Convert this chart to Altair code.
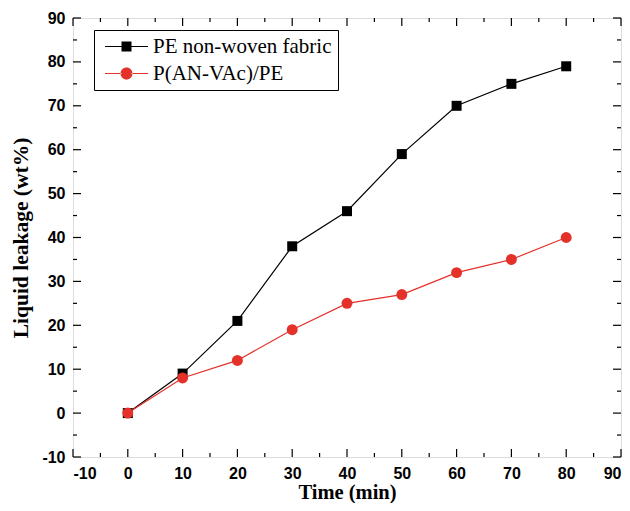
import altair as alt
import pandas as pd

time_min = [0, 10, 20, 30, 40, 50, 60, 70, 80]
pe_fabric = [0, 9, 21, 38, 46, 59, 70, 75, 79]
pan_pe = [0, 8, 12, 19, 25, 27, 32, 35, 40]
series_names = ["PE non-woven fabric", "P(AN-VAc)/PE"]
series_colors = ["#000000", "#e4312a"]
major_ticks = [-10, 0, 10, 20, 30, 40, 50, 60, 70, 80, 90]
minor_ticks = [-5, 5, 15, 25, 35, 45, 55, 65, 75, 85]

rows = []
for t, a, b in zip(time_min, pe_fabric, pan_pe):
    rows.append({"time": t, "value": a, "series": series_names[0]})
    rows.append({"time": t, "value": b, "series": series_names[1]})
df = pd.DataFrame(rows)

W, H = 548, 439
xscale = alt.Scale(domain=[-10, 90], nice=False, zero=False)
yscale = alt.Scale(domain=[-10, 90], nice=False, zero=False)
cscale = alt.Scale(domain=series_names, range=series_colors)

sq_path = "M-4.3,-0.1H-0.5V0.1H-4.3Z M0.5,-0.1H4.3V0.1H0.5Z M-1,-1H1V1H-1Z"
ci_path = ("M-4.3,-0.1H-1V0.1H-4.3Z M1,-0.1H4.3V0.1H1Z "
           "M-1.2,0A1.2,1.2,0,1,0,1.2,0A1.2,1.2,0,1,0,-1.2,0Z")

X = alt.X("time:Q", scale=xscale, axis=alt.Axis(
    values=major_ticks, title="Time (min)", tickSize=0, domain=False, grid=False,
    labelPadding=8, labelFont="Liberation Sans", labelFontWeight="bold",
    labelFontSize=16, labelColor="black", labelExpr="'' + datum.value",
    titleFont="Liberation Serif", titleFontWeight="bold", titleFontSize=20.5,
    titleColor="black", titlePadding=1))
Y = alt.Y("value:Q", scale=yscale, axis=alt.Axis(
    values=major_ticks, title="Liquid leakage (wt%)", tickSize=0, domain=False,
    grid=False, labelPadding=8, labelFont="Liberation Sans",
    labelFontWeight="bold", labelFontSize=16, labelColor="black",
    labelExpr="'' + datum.value",
    titleFont="Liberation Serif", titleFontWeight="bold", titleFontSize=21.5,
    titleColor="black", titlePadding=9))

base = alt.Chart(df)
layers = []
for i, name in enumerate(series_names):
    sub = base.transform_filter(alt.datum.series == name)
    line = sub.mark_line(strokeWidth=1.2).encode(
        x=X, y=Y, color=alt.value(series_colors[i]))
    if i == 0:
        pts = sub.mark_square(size=100, opacity=1, filled=True).encode(
            x=X, y=Y, color=alt.value(series_colors[i]))
    else:
        pts = sub.mark_circle(size=120, opacity=1).encode(
            x=X, y=Y, color=alt.value(series_colors[i]))
    layers += [line, pts]

legend_props = dict(title=None, orient="none", legendX=21, legendY=12,
                    strokeColor="black", padding=6,
                    symbolSize=100, symbolStrokeWidth=0, symbolOffset=16,
                    labelOffset=16, labelFont="Liberation Serif",
                    labelFontSize=21, labelColor="black", rowPadding=5,
                    labelLimit=400)
legend_layer = base.transform_filter("false").mark_point(filled=True, opacity=1).encode(
    x=X, y=Y,
    color=alt.Color("series:N", scale=cscale, legend=alt.Legend(**legend_props)),
    shape=alt.Shape("series:N", scale=alt.Scale(domain=series_names, range=[sq_path, ci_path]),
                    legend=alt.Legend(**legend_props)))

# inward ticks
maj = pd.DataFrame({"v": major_ticks})
mnr = pd.DataFrame({"v": minor_ticks})
def xticks(d, L):
    b = alt.Chart(d).mark_rule(color="black", strokeWidth=1.2)
    return [b.encode(x=alt.X("v:Q", scale=xscale), y=alt.value(H), y2=alt.value(H - L)),
            b.encode(x=alt.X("v:Q", scale=xscale), y=alt.value(0), y2=alt.value(L))]
def yticks(d, L):
    b = alt.Chart(d).mark_rule(color="black", strokeWidth=1.2)
    return [b.encode(y=alt.Y("v:Q", scale=yscale), x=alt.value(0), x2=alt.value(L)),
            b.encode(y=alt.Y("v:Q", scale=yscale), x=alt.value(W), x2=alt.value(W - L))]
ticks = xticks(maj, 8) + xticks(mnr, 4) + yticks(maj, 8) + yticks(mnr, 4)

chart = alt.layer(*ticks, *layers, legend_layer).properties(
    width=W, height=H, padding={"left": 65, "top": 10, "right": 1, "bottom": 46},
    autosize=alt.AutoSizeParams(type="none")
).configure_view(stroke="black", strokeWidth=1.5).configure(background="white")

chart.save("out.html", embed_options={"renderer": "svg", "actions": False})
